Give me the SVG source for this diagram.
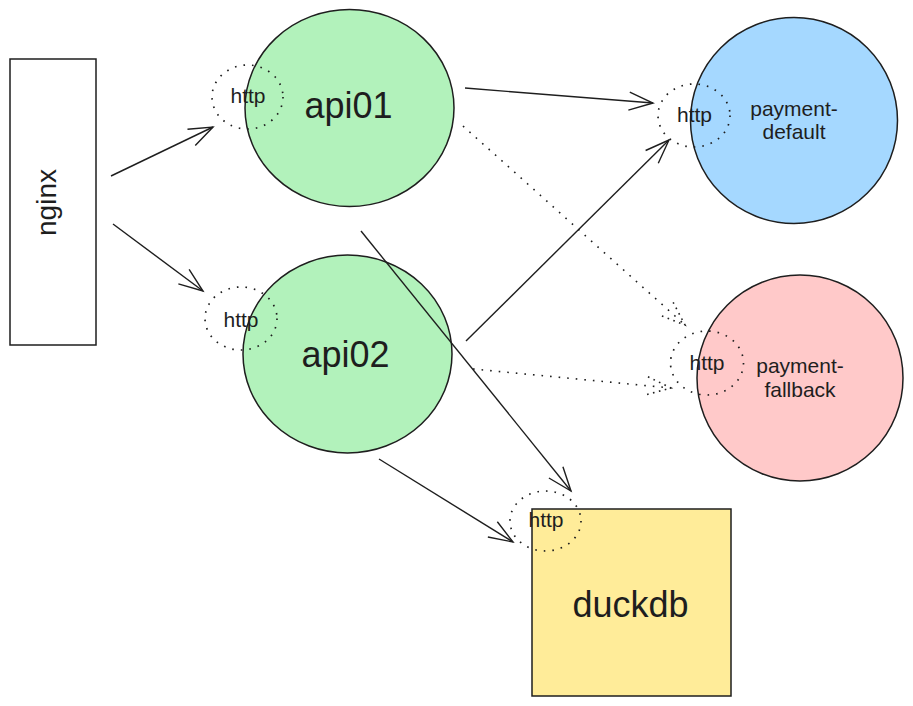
<svg xmlns="http://www.w3.org/2000/svg" width="913" height="706" viewBox="0 0 913 706">
<style>
.shape{stroke:#1e1e1e;stroke-width:1.5;}
.port{fill:none;stroke:#1e1e1e;stroke-width:1.7;stroke-dasharray:1.6 7;}
.lbl{font-family:"Liberation Sans",Arial,sans-serif;fill:#1e1e1e;text-anchor:middle;}
.big{font-size:36px;}
.mid{font-size:21px;}
.sm{font-size:21px;}
.conn{fill:none;stroke:#1e1e1e;stroke-width:1.4;marker-end:url(#ah);}
.dot{fill:none;stroke:#1e1e1e;stroke-width:1.6;stroke-dasharray:1.6 7;marker-end:url(#ahd);}
</style>
<defs>
<marker id="ah" viewBox="-27 -11 30 22" refX="0" refY="0" markerWidth="30" markerHeight="22" markerUnits="userSpaceOnUse" orient="auto">
<path d="M-24,-9 L0,0 L-24,9" fill="none" stroke="#1e1e1e" stroke-width="1.4"/>
</marker>
<marker id="ahd" viewBox="-27 -11 30 22" refX="0" refY="0" markerWidth="30" markerHeight="22" markerUnits="userSpaceOnUse" orient="auto">
<path d="M-24,-9 L0,0 L-24,9" fill="none" stroke="#1e1e1e" stroke-width="1.6" stroke-dasharray="1.6 4.5"/>
</marker>
</defs>
<rect width="913" height="706" fill="#ffffff"/>

<g id="nginx">
<rect x="10" y="59" width="86" height="286" fill="#ffffff" class="shape" stroke-width="1.2"/>
<text class="lbl" font-size="28" transform="translate(56,202.5) rotate(-90)">nginx</text>
</g>

<g id="api01">
<ellipse cx="349.5" cy="108" rx="104.5" ry="98.5" fill="#b2f2bb" class="shape"/>
<text class="lbl big" x="348.5" y="118">api01</text>
</g>

<g id="api02">
<ellipse cx="347.5" cy="354" rx="104.5" ry="99" fill="#b2f2bb" class="shape"/>
<text class="lbl big" x="345.5" y="367">api02</text>
</g>

<g id="payment-default">
<ellipse cx="794" cy="120.5" rx="103.5" ry="103" fill="#a5d8ff" class="shape"/>
<text class="lbl mid" x="794" y="116">payment-</text>
<text class="lbl mid" x="794" y="139">default</text>
</g>

<g id="payment-fallback">
<ellipse cx="800" cy="378" rx="103" ry="103" fill="#ffc9c9" class="shape"/>
<text class="lbl mid" x="800" y="373">payment-</text>
<text class="lbl mid" x="800" y="397">fallback</text>
</g>

<g id="duckdb">
<rect x="532" y="509" width="199" height="187" fill="#ffec99" class="shape" stroke-width="1.3"/>
<text class="lbl big" x="630.5" y="617">duckdb</text>
</g>

<g id="api01-http">
<ellipse cx="247.5" cy="97" rx="35.5" ry="32" class="port"/>
<text class="lbl sm" x="248" y="103">http</text>
</g>

<g id="api02-http">
<ellipse cx="241" cy="318.5" rx="36" ry="31.5" class="port"/>
<text class="lbl sm" x="241" y="327">http</text>
</g>

<g id="payment-default-http">
<ellipse cx="694" cy="115.5" rx="36" ry="31.5" class="port"/>
<text class="lbl sm" x="694.5" y="122">http</text>
</g>

<g id="payment-fallback-http">
<ellipse cx="707" cy="363" rx="36.5" ry="32" class="port"/>
<text class="lbl sm" x="707" y="370">http</text>
</g>

<g id="duckdb-http">
<ellipse cx="545.5" cy="521" rx="35.5" ry="30" class="port"/>
<text class="lbl sm" x="546" y="527">http</text>
</g>

<g id="connectors">
<path class="conn" d="M111,176 L213,127"/>
<path class="conn" d="M113,224 L203,291"/>
<path class="conn" d="M465,88 L653,103"/>
<path class="conn" d="M466,341 L669,140"/>
<path class="dot" d="M463,126 L685,325"/>
<path class="dot" d="M473,369 L671,388"/>
<path class="conn" d="M361,231 L571,491"/>
<path class="conn" d="M379,459 L513,542"/>
</g>
</svg>
